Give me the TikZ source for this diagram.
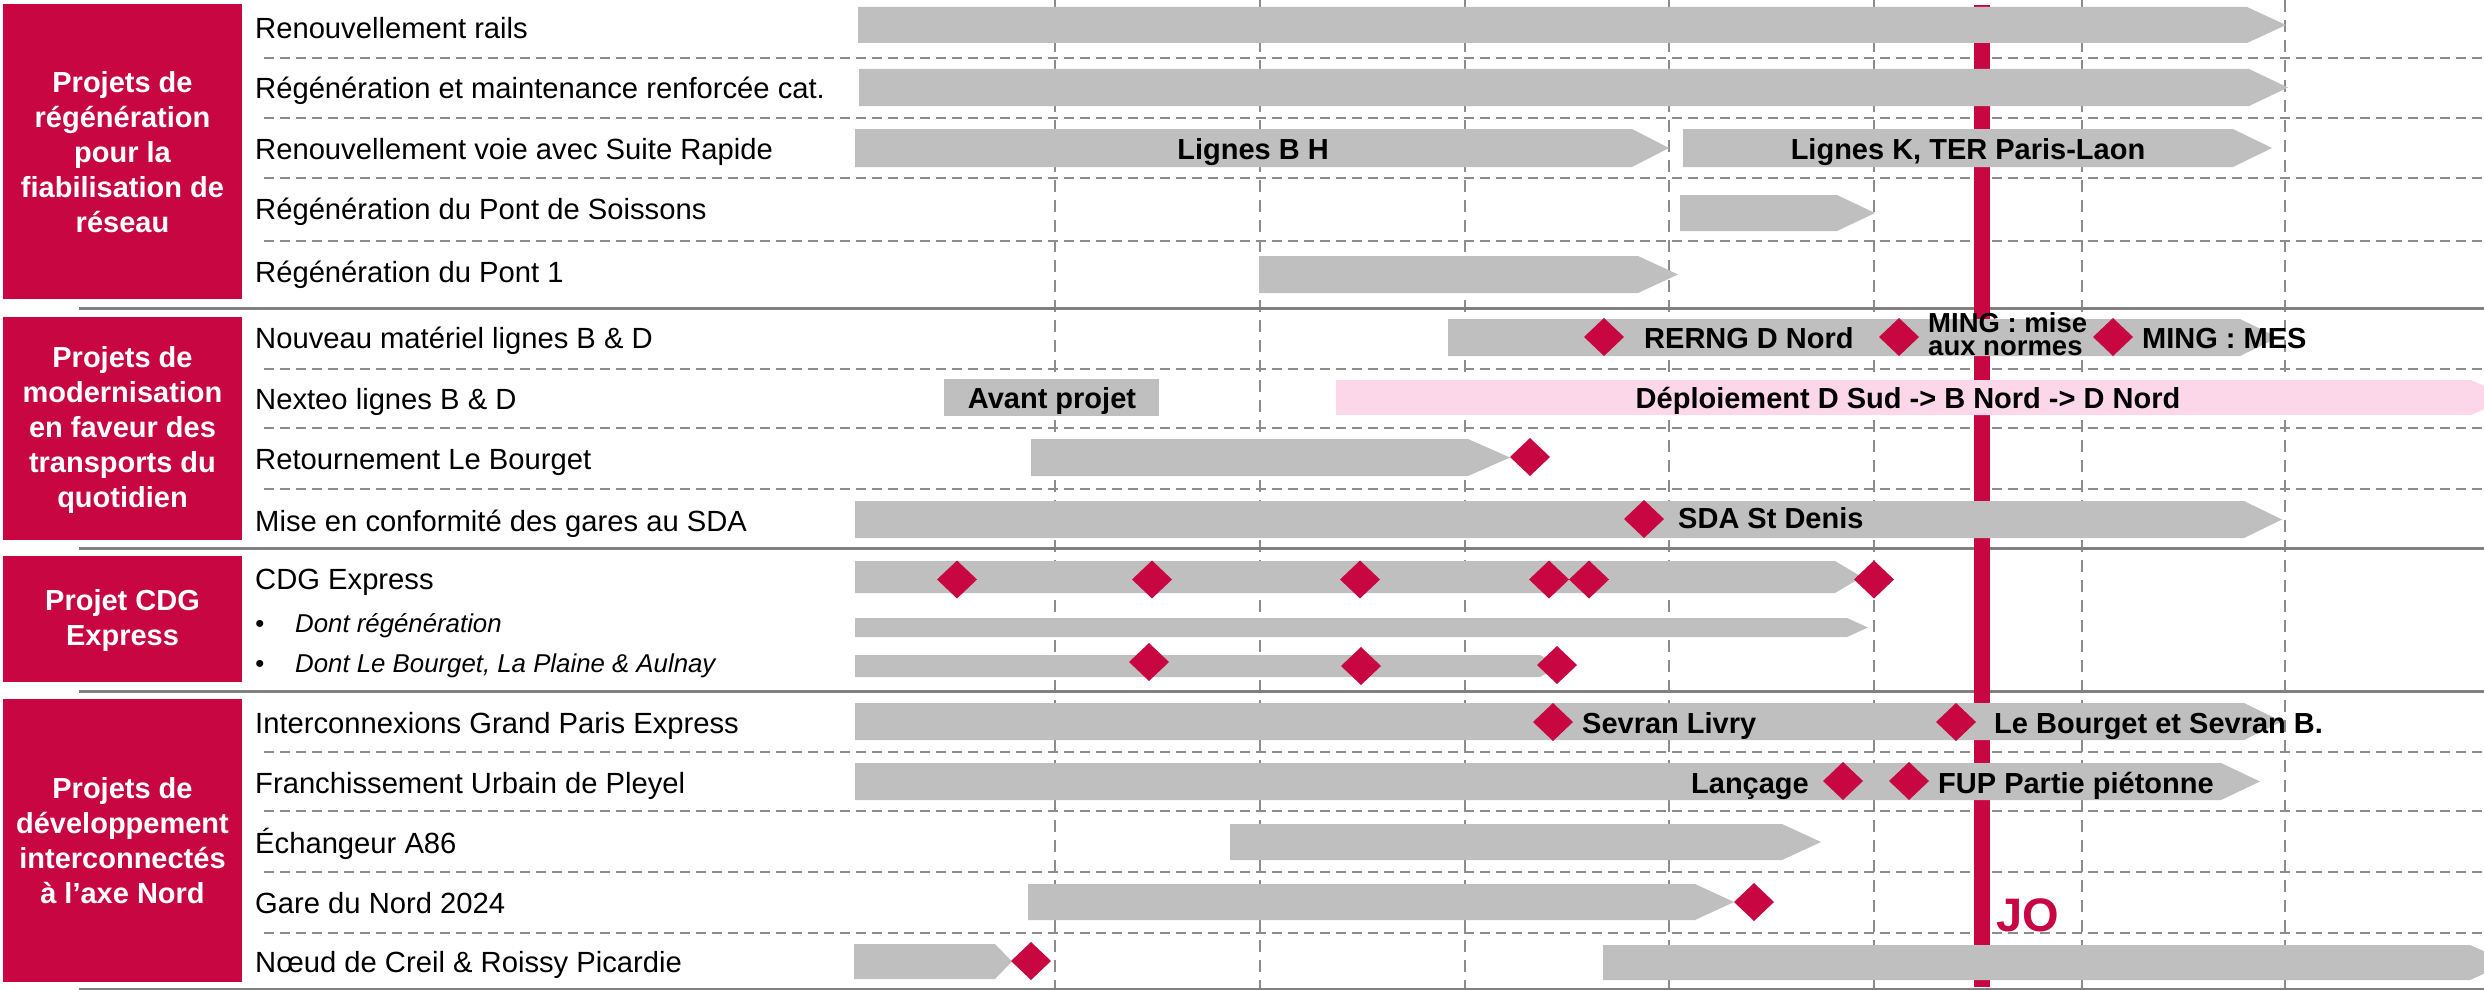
\documentclass[tikz,border=0pt]{standalone}
\usepackage{fontspec}
\setmainfont{Liberation Sans}
\definecolor{crimson}{RGB}{200,6,65}
\definecolor{barfill}{RGB}{191,191,191}
\definecolor{pinkfill}{RGB}{252,215,234}
\definecolor{gridgray}{RGB}{140,140,140}
\definecolor{secgray}{RGB}{128,128,128}
\newcommand\gbar[5]{\fill[barfill] (#1,#4) -- (#2,#4) -- (#3,{(#4+#5)/2}) -- (#2,#5) -- (#1,#5) -- cycle;}
\newcommand\dmd[2]{\fill[crimson] (#1,{#2-19}) -- ({#1+20},#2) -- (#1,{#2+19}) -- ({#1-20},#2) -- cycle;}
\begin{document}
\begin{tikzpicture}[x=1pt,y=-1pt,
  vgrid/.style={draw=gridgray,line width=2pt,dash pattern=on 12pt off 8pt},
  rowline/.style={draw=gridgray,line width=2.5pt,dash pattern=on 10pt off 6pt},
  secline/.style={draw=secgray,line width=3pt},
  cattext/.style={text=white,font=\bfseries\fontsize{29}{35}\selectfont,align=center,inner sep=0pt},
  lbl/.style={anchor=base west,inner sep=0pt,font=\fontsize{29.2}{31}\selectfont},
  sublbl/.style={anchor=base west,inner sep=0pt,font=\itshape\fontsize{25.8}{28}\selectfont},
  blbl/.style={anchor=base,inner sep=0pt,font=\bfseries\fontsize{29}{30}\selectfont},
  blblw/.style={blbl,anchor=base west},
  blble/.style={blbl,anchor=base east},
  mlbl/.style={anchor=base west,inner sep=0pt,font=\bfseries\fontsize{27.5}{28}\selectfont}]
\useasboundingbox (0,0) rectangle (2484,990);
\begin{scope}
\clip (0,0) rectangle (2484,990);
% vertical grid
\foreach \gx in {1055,1260,1465,1669,1874,2082,2285}
  \draw[vgrid] (\gx,0) -- (\gx,990);
% row dashed lines
\foreach \ry in {58,118,178,241,369,428,489,752,811,872,933}
  \draw[rowline] (264,\ry) -- (2484,\ry);
% section lines
\foreach \sy in {308,548,691,989}
  \draw[secline] (79,\sy) -- (2484,\sy);
% JO line
\fill[crimson] (1974,5) rectangle (1990,987);
% category boxes
\fill[crimson] (3,4) rectangle (242,299);
\fill[crimson] (3,317) rectangle (242,540);
\fill[crimson] (3,556) rectangle (242,682);
\fill[crimson] (3,699) rectangle (242,982);
\node[cattext] (c1) at (122.5,152) {Projets de\\régénération\\pour la\\fiabilisation de\\réseau};
\node[cattext] (c2) at (122.5,430) {Projets de\\modernisation\\en faveur des\\transports du\\quotidien};
\node[cattext] (c3) at (122.5,620) {Projet CDG\\Express};
\node[cattext] (c4) at (122.5,841) {Projets de\\développement\\interconnectés\\à l’axe Nord};
% row labels
\node[lbl] (l1) at (255,39) {Renouvellement rails};
\node[lbl] (l2) at (255,99) {Régénération et maintenance renforcée cat.};
\node[lbl] (l3) at (255,159) {Renouvellement voie avec Suite Rapide};
\node[lbl] (l4) at (255,219) {Régénération du Pont de Soissons};
\node[lbl] (l5) at (255,282) {Régénération du Pont 1};
\node[lbl] (l6) at (255,348) {Nouveau matériel lignes B \& D};
\node[lbl] (l7) at (255,409) {Nexteo lignes B \& D};
\node[lbl] (l8) at (255,469) {Retournement Le Bourget};
\node[lbl] (l9) at (255,531) {Mise en conformité des gares au SDA};
\node[lbl] (l10) at (255,589) {CDG Express};
\node[sublbl] (b1) at (255,632) {•};
\node[sublbl] (l11) at (295,632) {Dont régénération};
\node[sublbl] (b2) at (255,672) {•};
\node[sublbl] (l12) at (295,672) {Dont Le Bourget, La Plaine \& Aulnay};
\node[lbl] (l13) at (255,733) {Interconnexions Grand Paris Express};
\node[lbl] (l14) at (255,793) {Franchissement Urbain de Pleyel};
\node[lbl] (l15) at (255,853) {Échangeur A86};
\node[lbl] (l16) at (255,913) {Gare du Nord 2024};
\node[lbl] (l17) at (255,972) {Nœud de Creil \& Roissy Picardie};
% section 1 bars
\gbar{858}{2247}{2286}{7}{43}
\gbar{859}{2249}{2288}{69}{106}
\gbar{855}{1632}{1669}{129}{167}
\gbar{1683}{2233}{2272}{129}{167}
\gbar{1680}{1837}{1875}{195}{231}
\gbar{1259}{1638}{1678}{256}{293}
\node[blbl] (t1) at (1253,159) {Lignes B H};
\node[blbl] (t2) at (1968,159) {Lignes K, TER Paris-Laon};
% section 2
\gbar{1448}{2240}{2278}{319}{356}
\dmd{1604}{337}\dmd{1899}{337}\dmd{2113}{337}
\node[blblw] (t3) at (1644,348) {RERNG D Nord};
\node[mlbl] (t4a) at (1928,332) {MING : mise};
\node[mlbl] (t4b) at (1928,355) {aux normes};
\node[blblw] (t5) at (2142,348) {MING : MES};
\fill[barfill] (944,379) rectangle (1159,416);
\node[blbl] (t6) at (1052,408) {Avant projet};
\fill[pinkfill] (1336,380) -- (2471,380) -- (2510,397.5) -- (2471,415) -- (1336,415) -- cycle;
\node[blbl] (t7) at (1908,408) {Déploiement D Sud -> B Nord -> D Nord};
\gbar{1031}{1468}{1510}{439}{476}
\dmd{1530}{457}
\gbar{855}{2244}{2282}{501}{538}
\dmd{1644}{519}
\node[blblw] (t8) at (1678,528) {SDA St Denis};
% section 3
\gbar{855}{1835}{1862}{561}{593}
\foreach \dx in {957,1152,1360,1549,1589,1874} {\dmd{\dx}{579.5}}
\gbar{855}{1847}{1868}{618}{637}
\gbar{855}{1540}{1560}{655}{677}
\dmd{1149}{662}\dmd{1361}{666}\dmd{1557}{665}
% section 4
\gbar{855}{2244}{2282}{703}{740}
\dmd{1553}{722}\dmd{1956}{722}
\node[blblw] (t9) at (1582,733) {Sevran Livry};
\node[blblw] (t10) at (1994,733) {Le Bourget et Sevran B.};
\gbar{855}{2221}{2260}{763}{800}
\dmd{1843}{781}\dmd{1909}{781}
\node[blble] (t11) at (1809,793) {Lançage};
\node[blblw] (t12) at (1938,793) {FUP Partie piétonne};
\gbar{1230}{1782}{1821}{824}{860}
\gbar{1028}{1695}{1734}{884}{920}
\dmd{1754}{902}
\gbar{854}{995}{1012}{944}{979}
\dmd{1031}{961}
\gbar{1603}{2470}{2509}{945}{980}
\node[anchor=base west,inner sep=0pt,text=crimson,font=\bfseries\fontsize{47}{50}\selectfont] (jo) at (1996,931) {JO};
\end{scope}
\end{tikzpicture}
\end{document}
